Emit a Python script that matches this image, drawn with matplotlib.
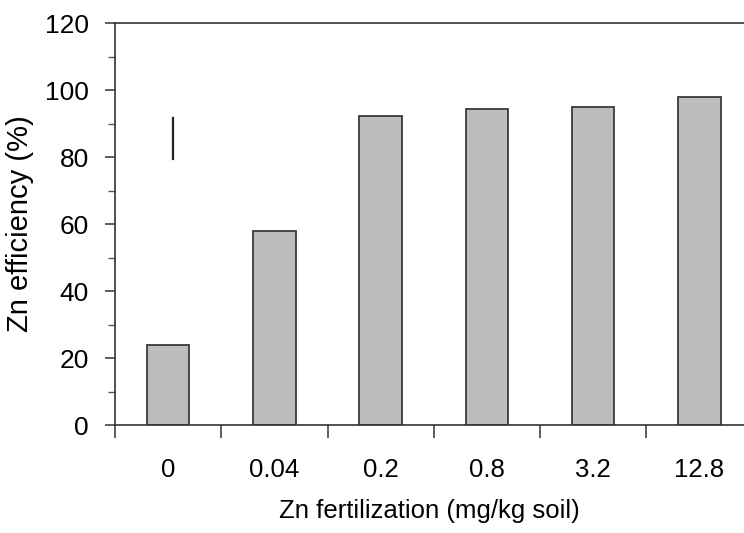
import matplotlib
matplotlib.use("Agg")
import matplotlib.pyplot as plt
import numpy as np

categories = ["0", "0.04", "0.2", "0.8", "3.2", "12.8"]
efficiency = [24, 58, 92.3, 94.3, 94.9, 98.0]
lsd_low, lsd_high = 79.5, 91.5
yticks = [0, 20, 40, 60, 80, 100, 120]

plt.rcParams['font.family'] = ['Liberation Sans', 'DejaVu Sans']

fig = plt.figure(figsize=(7.44, 5.33), dpi=100)
ax = fig.add_axes([0.1546, 0.2026, 0.8454, 0.7542])

x = np.arange(len(categories))
ax.bar(x, efficiency, width=0.4, color='#bcbcbc', edgecolor='#3a3a3a', linewidth=1.3, zorder=2)
ax.plot([0.05, 0.05], [lsd_low, lsd_high], color='#222222', linewidth=1.6)

ax.set_xlim(-0.5, 5.42)
ax.set_ylim(0, 120)
ax.set_yticks(yticks)
ax.set_yticks(np.arange(10, 120, 20), minor=True)
ax.set_xticks(x - 0.5, minor=True)
ax.set_xticks(x)
ax.set_xticklabels(categories)
ax.tick_params(axis='x', which='major', length=0, pad=24, labelsize=18.5)
ax.tick_params(axis='x', which='minor', length=9, width=1.1, color='#333333', direction='out')
ax.tick_params(axis='y', which='major', length=7, width=1.1, color='#333333', pad=12, labelsize=19)
ax.tick_params(axis='y', which='minor', length=5, width=1.0, color='#555555')

for s in ['left', 'bottom', 'top']:
    ax.spines[s].set_color('#333333')
    ax.spines[s].set_linewidth(1.2)
ax.spines['right'].set_visible(False)

ax.set_ylabel("Zn efficiency (%)", fontsize=21, labelpad=8)
ax.set_xlabel("Zn fertilization (mg/kg soil)", fontsize=18.5, labelpad=12)

fig.savefig("out.png", dpi=100)
